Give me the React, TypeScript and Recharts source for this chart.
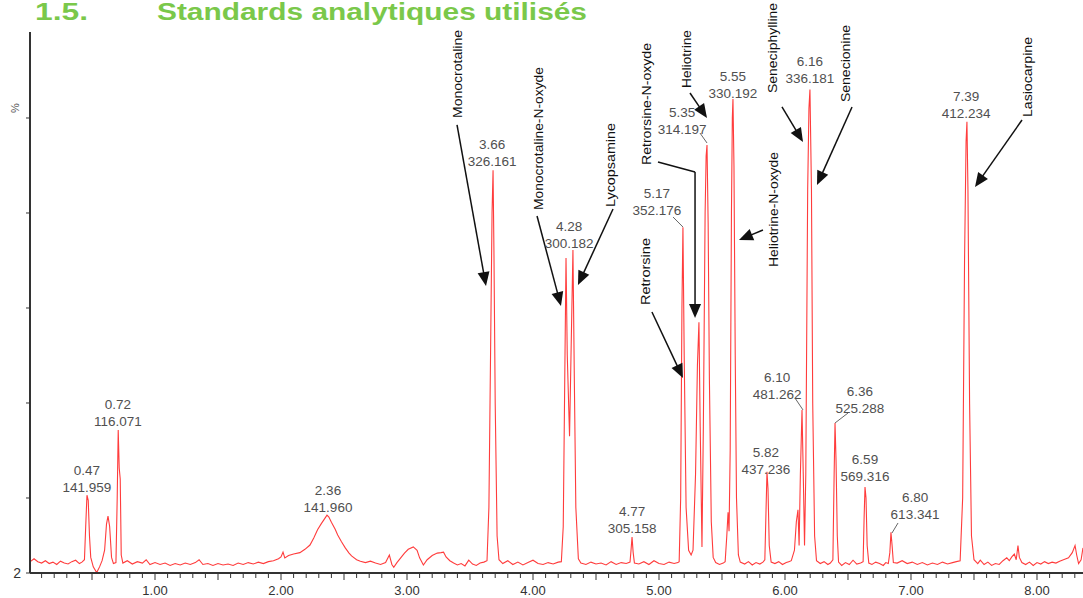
import React from 'react';
import { LineChart, Line, XAxis, YAxis, ReferenceDot, ReferenceLine } from 'recharts';

// ---- chromatogram trace: [retention time (min), relative intensity (%)] ----
const tracePoints: [number, number][] = [
  [0.01, 6.6], [0.04, 7.2], [0.07, 6.6], [0.10, 6.3], [0.13, 6.8], [0.16, 6.2], [0.19, 6.5], [0.22, 6.0],
  [0.25, 6.7], [0.28, 6.3], [0.31, 6.1], [0.34, 6.6], [0.37, 6.9], [0.40, 6.2], [0.42, 6.5],
  [0.44, 7.0], [0.45, 14], [0.46, 20.6], [0.47, 19.5], [0.48, 12], [0.49, 7.5],
  [0.51, 5.5], [0.537, 4.3], [0.56, 5.5], [0.58, 6.8],
  [0.60, 9], [0.615, 14.5], [0.627, 16.2], [0.64, 14], [0.655, 7.5], [0.67, 6.2],
  [0.69, 6.4], [0.70, 20], [0.708, 34.3], [0.716, 26.3], [0.724, 24], [0.732, 8], [0.745, 6.3],
  [0.78, 6.8], [0.82, 6.1], [0.86, 6.6], [0.90, 6.3], [0.93, 7.0], [0.96, 6.0], [1.00, 6.4], [1.04, 6.0],
  [1.08, 6.3], [1.12, 5.8], [1.16, 6.2], [1.20, 5.9], [1.24, 6.3], [1.28, 6.0], [1.32, 6.4], [1.35, 7.0],
  [1.38, 6.0], [1.42, 6.2], [1.46, 5.8], [1.50, 6.2], [1.54, 5.9], [1.58, 6.1], [1.62, 5.8], [1.66, 6.3],
  [1.70, 6.0], [1.74, 6.4], [1.78, 6.1], [1.82, 6.5], [1.86, 6.2], [1.90, 6.6], [1.94, 6.8],
  [1.98, 7.2], [2.00, 7.6], [2.016, 8.6], [2.03, 7.4], [2.06, 7.9], [2.10, 8.2], [2.15, 8.5], [2.19, 9.2],
  [2.23, 10.1], [2.26, 11.6], [2.29, 13.3], [2.32, 14.6], [2.34, 15.4], [2.365, 16.4], [2.38, 16.0],
  [2.40, 14.9], [2.43, 13.4], [2.45, 12.2], [2.48, 10.8], [2.51, 9.5], [2.54, 8.4], [2.56, 7.8],
  [2.60, 7.0], [2.63, 6.7], [2.67, 6.4], [2.71, 6.7], [2.75, 6.3], [2.79, 6.0], [2.83, 6.4], [2.86, 8.0],
  [2.88, 6.0], [2.895, 5.4], [2.92, 6.4], [2.95, 7.4], [2.98, 8.4], [3.01, 9.2], [3.05, 9.7], [3.08, 9.0],
  [3.10, 7.4], [3.13, 5.9], [3.16, 7.0], [3.20, 7.9], [3.24, 8.4], [3.27, 8.5], [3.29, 8.6], [3.31, 7.6],
  [3.34, 6.8], [3.37, 6.3], [3.40, 5.9], [3.43, 6.2], [3.46, 5.7], [3.49, 6.9], [3.52, 6.1], [3.55, 5.8],
  [3.58, 6.3], [3.61, 6.5],
  [3.635, 6.8], [3.65, 18], [3.665, 55], [3.675, 80], [3.683, 89], [3.69, 72], [3.70, 40], [3.715, 12], [3.73, 7.0],
  [3.76, 6.2], [3.80, 6.8], [3.84, 6.0], [3.88, 6.5], [3.92, 5.9], [3.96, 6.4], [4.00, 6.9], [4.04, 6.2],
  [4.08, 6.0], [4.12, 6.4], [4.16, 6.1], [4.20, 6.5],
  [4.225, 6.6], [4.24, 14], [4.252, 45], [4.262, 70.5], [4.272, 50], [4.29, 33], [4.305, 55], [4.317, 72.2],
  [4.328, 45], [4.34, 18], [4.36, 7.2], [4.38, 6.3],
  [4.42, 6.0], [4.46, 6.5], [4.50, 6.1], [4.54, 6.3], [4.58, 5.9], [4.62, 6.6], [4.66, 6.0], [4.70, 6.4], [4.74, 6.2],
  [4.77, 6.5], [4.778, 9], [4.786, 11.8], [4.795, 8.5], [4.805, 6.3],
  [4.84, 6.1], [4.88, 6.6], [4.92, 6.0], [4.96, 6.8], [5.00, 6.2], [5.04, 6.0], [5.08, 6.5], [5.12, 6.2], [5.15, 6.4],
  [5.16, 6.6], [5.172, 20], [5.182, 60], [5.190, 77], [5.20, 50], [5.215, 18], [5.235, 9], [5.255, 8],
  [5.27, 9], [5.29, 25], [5.305, 48], [5.317, 57], [5.327, 35], [5.341, 9.7], [5.352, 35], [5.366, 80],
  [5.374, 92], [5.381, 94.3], [5.39, 78], [5.40, 45], [5.415, 15], [5.43, 7.5], [5.45, 6.4],
  [5.48, 6.0], [5.51, 6.3], [5.525, 6.6], [5.538, 12], [5.548, 17], [5.556, 13], [5.565, 30], [5.575, 80],
  [5.582, 100], [5.587, 104], [5.595, 90], [5.605, 50], [5.615, 20], [5.63, 8], [5.645, 6.5],
  [5.68, 6.1], [5.71, 6.6], [5.74, 5.9], [5.77, 6.4], [5.80, 6.1], [5.825, 6.5],
  [5.84, 7], [5.85, 18], [5.857, 25.5], [5.865, 22], [5.875, 10], [5.89, 6.5],
  [5.92, 6.2], [5.95, 6.6], [5.98, 6.0], [6.01, 6.4], [6.03, 6.6],
  [6.05, 6.8], [6.075, 9], [6.09, 15], [6.103, 17.5], [6.112, 10], [6.122, 25], [6.135, 38.5], [6.145, 25],
  [6.155, 10], [6.165, 25], [6.18, 85], [6.19, 102], [6.198, 106], [6.21, 85], [6.22, 40], [6.235, 12], [6.25, 6.8],
  [6.28, 6.2], [6.31, 6.6], [6.34, 6.0], [6.36, 6.3],
  [6.38, 7], [6.39, 25], [6.397, 35.8], [6.405, 28], [6.415, 12], [6.425, 6.5],
  [6.45, 5.8], [6.48, 6.4], [6.51, 6.0], [6.54, 6.9], [6.57, 6.1], [6.60, 6.3],
  [6.62, 6.6], [6.628, 16], [6.635, 22.3], [6.643, 20], [6.652, 10], [6.665, 6.3],
  [6.69, 6.0], [6.72, 6.5], [6.75, 6.2], [6.78, 5.8], [6.80, 6.4], [6.82, 6.2],
  [6.832, 8.5], [6.841, 12.8], [6.85, 10], [6.86, 6.4],
  [6.89, 6.3], [6.93, 6.8], [6.97, 6.2], [7.01, 6.5], [7.05, 6.0], [7.09, 6.4], [7.13, 5.9], [7.17, 6.3],
  [7.21, 6.0], [7.25, 6.5], [7.29, 6.1], [7.33, 6.4], [7.36, 6.6],
  [7.39, 6.8], [7.41, 20], [7.425, 70], [7.437, 95], [7.444, 99.2], [7.452, 85], [7.465, 40], [7.48, 12], [7.50, 7.0],
  [7.53, 6.2], [7.55, 6.9], [7.58, 6.0], [7.61, 6.5], [7.64, 5.8], [7.67, 6.2], [7.70, 6.0], [7.73, 6.8],
  [7.76, 7.4], [7.78, 6.8], [7.80, 7.6], [7.82, 8.2], [7.835, 7.0], [7.849, 10], [7.86, 7.5], [7.88, 6.4],
  [7.91, 6.0], [7.94, 6.5], [7.97, 5.8], [8.00, 6.4], [8.03, 6.1], [8.06, 6.6], [8.09, 6.2], [8.12, 6.5],
  [8.15, 6.3], [8.18, 6.7], [8.21, 7.0], [8.25, 7.4], [8.28, 8.5], [8.302, 10], [8.315, 8], [8.33, 6.2],
  [8.35, 7.0], [8.365, 9.5],
];

// ---- axis ----
const xDomain: [number, number] = [0.0079, 8.3651];
const yDomain: [number, number] = [4.2105, 118.105];
const xMajorLabels = ['1.00', '2.00', '3.00', '4.00', '5.00', '6.00', '7.00', '8.00'];
const yTickValues = [4.2105, 20, 40, 60, 80, 100];
const yBottomLabel = '2';
const yUnitLabel = '%';

// ---- peak annotations (retention time / m/z) ----
const peakRT = ['0.47', '0.72', '2.36', '3.66', '4.28', '4.77', '5.17', '5.35', '5.55', '5.82', '6.10', '6.16', '6.36', '6.59', '6.80', '7.39'];
const peakMZ = ['141.959', '116.071', '141.960', '326.161', '300.182', '305.158', '352.176', '314.197', '330.192', '437.236', '481.262', '336.181', '525.288', '569.316', '613.341', '412.234'];
const peakLabelAnchors: [number, number][] = [
  [0.460, 25.89], [0.706, 39.58], [2.373, 21.68], [3.675, 94.32], [4.286, 77.26], [4.786, 17.26],
  [4.984, 84.21], [5.183, 101.26], [5.587, 108.84], [5.849, 29.68], [5.937, 45.47], [6.198, 111.79],
  [6.595, 42.32], [6.635, 28.0], [7.032, 20.0], [7.437, 104.63],
];
const leaderLines: [number, number, number, number][] = [
  [5.111, 79.16, 5.190, 77.05],
  [5.325, 96.84, 5.381, 94.74],
  [6.079, 41.05, 6.143, 38.53],
  [6.500, 37.89, 6.397, 35.79],
  [6.897, 14.74, 6.849, 12.63],
];

// ---- compound names ----
const compoundNames = ['Monocrotaline', 'Monocrotaline-N-oxyde', 'Lycopsamine', 'Retrorsine-N-oxyde', 'Heliotrine', 'Retrorsine', 'Heliotrine-N-oxyde', 'Seneciphylline', 'Senecionine', 'Lasiocarpine'];
const compoundAnchors: [number, number][] = [
  [3.397, 109.26], [4.040, 95.68], [4.619, 90.11], [4.897, 102.95], [5.222, 112.42],
  [4.889, 67.68], [5.905, 80.74], [5.897, 114.74], [6.484, 111.47], [7.921, 108.63],
];
const compoundTextLengths = [88, 143, 84, 122, 58, 67, 115, 90, 77, 80];

// arrows: [t1, v1, t2, v2, hasHead]
const arrowSegments: [number, number, number, number, boolean][] = [
  [3.397, 98.53, 3.627, 64.63, true],
  [4.032, 79.37, 4.222, 60.42, true],
  [4.635, 80.84, 4.357, 64.84, true],
  [4.992, 90.74, 5.286, 88.63, false],
  [5.286, 88.63, 5.286, 57.89, true],
  [5.246, 105.26, 5.381, 100.0, true],
  [5.825, 76.42, 5.635, 74.32, true],
  [4.944, 59.16, 5.190, 45.26, true],
  [5.976, 102.32, 6.143, 94.95, true],
  [6.532, 102.32, 6.254, 85.89, true],
  [7.881, 99.58, 7.508, 85.47, true],
];

const traceData = tracePoints.map(([t, v]) => ({ t, v }));
const xTicks = Array.from({ length: 83 }, (_, i) => Math.round((i + 1) * 10) / 100);

const FONT = '"Liberation Sans", Arial, Helvetica, sans-serif';
const CHART_W = 1083;
const CHART_H = 598;
const X_AXIS_H = 25;
const AXIS_Y = CHART_H - X_AXIS_H;

const XTick = (props: any) => {
  const { x, payload } = props;
  const val = payload.value as number;
  const r = Math.round(val * 10);
  const isInt = r % 10 === 0;
  const isHalf = r % 5 === 0;
  const len = isHalf ? 6 : 4;
  const idx = r / 10 - 1;
  return (
    <g>
      <line x1={x} x2={x} y1={AXIS_Y + 1} y2={AXIS_Y + 1 + len} stroke="#333" strokeWidth={1} />
      {isInt && xMajorLabels[idx] && (
        <text x={x} y={AXIS_Y + 22} textAnchor="middle" fontSize={13} fill="#333" fontFamily={FONT}>
          {xMajorLabels[idx]}
        </text>
      )}
    </g>
  );
};

const YTick = (props: any) => {
  const { x, y, index } = props;
  if (index === 0) {
    return (
      <text x={x - 3} y={y + 5} textAnchor="end" fontSize={14} fill="#333" fontFamily={FONT}>
        {yBottomLabel}
      </text>
    );
  }
  if (index === yTickValues.length - 1) {
    return (
      <text x={x - 9} y={y - 10} textAnchor="middle" dominantBaseline="central" fontSize={11} fill="#555"
        fontFamily={FONT} transform={`rotate(-90 ${x - 9} ${y - 10})`}>
        {yUnitLabel}
      </text>
    );
  }
  return <g />;
};

const arrowShape = (hasHead: boolean) => (p: any) => {
  const { x1, y1, x2, y2 } = p;
  const dx = x2 - x1;
  const dy = y2 - y1;
  const len = Math.hypot(dx, dy) || 1;
  const ux = dx / len;
  const uy = dy / len;
  const L = 14;
  const W = 6;
  const bx = x2 - ux * L;
  const by = y2 - uy * L;
  const pts = `${x2},${y2} ${bx - uy * W},${by + ux * W} ${bx + uy * W},${by - ux * W}`;
  return (
    <g>
      <line x1={x1} y1={y1} x2={hasHead ? bx + ux * 2 : x2} y2={hasHead ? by + uy * 2 : y2} stroke="#111" strokeWidth={1.5} />
      {hasHead && <polygon points={pts} fill="#111" />}
    </g>
  );
};

const leaderShape = (p: any) => (
  <line x1={p.x1} y1={p.y1} x2={p.x2} y2={p.y2} stroke="#666" strokeWidth={1} />
);

export default function App() {
  return (
    <div style={{ position: 'absolute', left: 0, top: 0, width: CHART_W, height: CHART_H, background: '#fff' }}>
      <svg width={CHART_W} height={40} style={{ position: 'absolute', left: 0, top: 0 }}>
        <text x={35} y={20} fontSize={23} fontWeight="bold" fill="#7ac84a" fontFamily={FONT}
          textLength={53} lengthAdjust="spacingAndGlyphs">1.5.</text>
        <text x={157} y={20} fontSize={23} fontWeight="bold" fill="#7ac84a" fontFamily={FONT}
          textLength={430} lengthAdjust="spacingAndGlyphs">Standards analytiques utilisés</text>
      </svg>
      <div style={{ position: 'absolute', left: 0, top: 0 }}>
        <LineChart width={CHART_W} height={CHART_H} data={traceData}
          margin={{ top: 32, right: 0, bottom: 0, left: 0 }}>
          <XAxis dataKey="t" type="number" domain={xDomain} ticks={xTicks} interval={0}
            allowDataOverflow height={X_AXIS_H} tickLine={false} tick={<XTick />}
            axisLine={{ stroke: '#333', strokeWidth: 2 }} />
          <YAxis type="number" domain={yDomain} ticks={yTickValues} interval={0} allowDataOverflow
            width={30} tickSize={4} tickLine={{ stroke: '#333' }} tick={<YTick />}
            axisLine={{ stroke: '#333', strokeWidth: 2 }} />
          <Line type="linear" dataKey="v" stroke="#ff3c3c" strokeWidth={1.1} dot={false}
            activeDot={false} isAnimationActive={false} />
          {leaderLines.map(([a, b, c, d], i) => (
            <ReferenceLine key={`ld${i}`} segment={[{ x: a, y: b }, { x: c, y: d }]} ifOverflow="visible" shape={leaderShape} />
          ))}
          {arrowSegments.map(([a, b, c, d, h], i) => (
            <ReferenceLine key={`ar${i}`} segment={[{ x: a, y: b }, { x: c, y: d }]} ifOverflow="visible" shape={arrowShape(h)} />
          ))}
          {peakLabelAnchors.map(([t, v], i) => (
            <ReferenceDot key={`pl${i}`} x={t} y={v} r={0} ifOverflow="visible"
              shape={(p: any) => (
                <g fontFamily={FONT} fontSize={13.5} fill="#505050">
                  <text x={p.cx} y={p.cy} textAnchor="middle" dominantBaseline="central">{peakRT[i]}</text>
                  <text x={p.cx} y={p.cy + 17} textAnchor="middle" dominantBaseline="central">{peakMZ[i]}</text>
                </g>
              )} />
          ))}
          {compoundAnchors.map(([t, v], i) => (
            <ReferenceDot key={`cn${i}`} x={t} y={v} r={0} ifOverflow="visible"
              shape={(p: any) => (
                <text x={p.cx} y={p.cy} textAnchor="middle" dominantBaseline="central" fontSize={13}
                  fill="#111" fontFamily={FONT} textLength={compoundTextLengths[i]} lengthAdjust="spacingAndGlyphs"
                  transform={`rotate(-90 ${p.cx} ${p.cy})`}>
                  {compoundNames[i]}
                </text>
              )} />
          ))}
        </LineChart>
      </div>
    </div>
  );
}
